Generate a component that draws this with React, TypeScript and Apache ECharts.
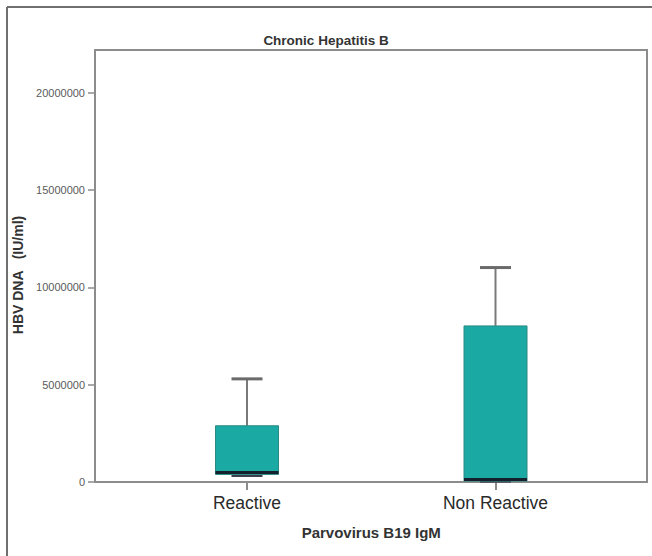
import React, { useEffect, useRef } from "react";
import * as echarts from "echarts";

const categories = ["Reactive", "Non Reactive"];
const minValues = [310000, 20000];
const q1Values = [390000, 50000];
const medianValues = [490000, 130000];
const q3Values = [2890000, 8020000];
const maxValues = [5300000, 11020000];
const yMax = 22200000;
const yInterval = 5000000;

const TEAL = "#1ba9a4";

export default function App() {
  const ref = useRef<HTMLDivElement>(null);
  useEffect(() => {
    if (!ref.current) return;
    const chart = echarts.init(ref.current, undefined, { renderer: "svg" });
    const boxData = categories.map((c, i) => [
      i,
      minValues[i],
      q1Values[i],
      medianValues[i],
      q3Values[i],
      maxValues[i],
    ]);
    const option: any = {
      animation: false,
      backgroundColor: "#ffffff",
      title: {
        text: "Chronic Hepatitis B",
        left: "center",
        top: 28,
        textStyle: {
          fontFamily: "Liberation Sans, Arial, sans-serif",
          fontSize: 13.5,
          fontWeight: "bold",
          color: "#333",
        },
      },
      grid: [
        {
          left: 95,
          right: 5,
          top: 50,
          bottom: 74,
          show: true,
          borderColor: "#8c8c8c",
          borderWidth: 2,
          backgroundColor: "transparent",
        },
        {
          left: 122.75,
          right: 32.25,
          top: 50,
          bottom: 74,
        },
      ],
      xAxis: [
        { type: "value", gridIndex: 0, show: false, min: 0, max: 1 },
        {
          type: "category",
          gridIndex: 1,
          data: categories,
          axisLine: { show: false },
          axisTick: {
            show: true,
            alignWithLabel: true,
            length: 8,
            lineStyle: { color: "#8c8c8c", width: 2 },
          },
          axisLabel: {
            margin: 12,
            fontFamily: "Liberation Sans, Arial, sans-serif",
            fontSize: 17.5,
            color: "#2a2a2a",
          },
          name: "Parvovirus B19 IgM",
          nameLocation: "middle",
          nameGap: 43,
          nameTextStyle: {
            fontFamily: "Liberation Sans, Arial, sans-serif",
            fontSize: 15,
            fontWeight: "bold",
            color: "#333",
          },
          splitLine: { show: false },
        },
      ],
      yAxis: [
        {
          type: "value",
          gridIndex: 0,
          min: 0,
          max: yMax,
          interval: yInterval,
          axisLine: { show: false },
          axisTick: {
            show: true,
            length: 7,
            lineStyle: { color: "#8c8c8c", width: 1.5 },
          },
          axisLabel: {
            margin: 10,
            fontFamily: "Liberation Sans, Arial, sans-serif",
            fontSize: 11,
            color: "#5a5a5a",
            showMaxLabel: false,
            formatter: (v: number) => String(v),
          },
          splitLine: { show: false },
        },
        {
          type: "value",
          gridIndex: 1,
          min: 0,
          max: yMax,
          show: false,
          splitLine: { show: false },
        },
      ],
      graphic: [
        {
          type: "line",
          shape: { x1: 7, y1: 7, x2: 652, y2: 7 },
          style: { stroke: "#707070", lineWidth: 2 },
          silent: true,
        },
        {
          type: "line",
          shape: { x1: 7, y1: 7, x2: 7, y2: 556 },
          style: { stroke: "#707070", lineWidth: 2 },
          silent: true,
        },
        {
          type: "text",
          x: 18,
          y: 275,
          rotation: Math.PI / 2,
          style: {
            text: "HBV DNA   (IU/ml)",
            fontFamily: "Liberation Sans, Arial, sans-serif",
            fontSize: 14,
            fontWeight: "bold",
            fill: "#333",
            align: "center",
            verticalAlign: "middle",
          },
        },
      ],
      series: [
        {
          type: "custom",
          xAxisIndex: 1,
          yAxisIndex: 1,
          data: boxData,
          encode: { x: 0, y: [1, 2, 3, 4, 5] },
          renderItem: (params: any, api: any) => {
            const x = api.value(0);
            const pMin = api.coord([x, api.value(1)]);
            const pQ1 = api.coord([x, api.value(2)]);
            const pMed = api.coord([x, api.value(3)]);
            const pQ3 = api.coord([x, api.value(4)]);
            const pMax = api.coord([x, api.value(5)]);
            const cx = pMed[0];
            const half = 31.5;
            const cap = 15.5;
            const whisk = { stroke: "#7a7a7a", lineWidth: 2 };
            return {
              type: "group",
              children: [
                {
                  type: "line",
                  shape: { x1: cx, y1: pQ3[1], x2: cx, y2: pMax[1] },
                  style: whisk,
                },
                {
                  type: "line",
                  shape: { x1: cx - cap, y1: pMax[1], x2: cx + cap, y2: pMax[1] },
                  style: { stroke: "#6a6a6a", lineWidth: 3 },
                },
                {
                  type: "line",
                  shape: { x1: cx, y1: pQ1[1], x2: cx, y2: pMin[1] },
                  style: whisk,
                },
                {
                  type: "line",
                  shape: { x1: cx - cap, y1: pMin[1], x2: cx + cap, y2: pMin[1] },
                  style: { stroke: "#3a3a4a", lineWidth: 2 },
                },
                {
                  type: "rect",
                  shape: {
                    x: cx - half,
                    y: pQ3[1],
                    width: half * 2,
                    height: pQ1[1] - pQ3[1],
                  },
                  style: { fill: TEAL, stroke: "#2b8a86", lineWidth: 1 },
                },
                {
                  type: "line",
                  shape: { x1: cx - half, y1: pMed[1], x2: cx + half, y2: pMed[1] },
                  style: { stroke: "#14202c", lineWidth: 3 },
                },
              ],
            };
          },
        },
      ],
    };
    chart.setOption(option);
    return () => chart.dispose();
  }, []);
  return (
    <div
      ref={ref}
      style={{ position: "fixed", left: 0, top: 0, width: 652, height: 556 }}
    />
  );
}
